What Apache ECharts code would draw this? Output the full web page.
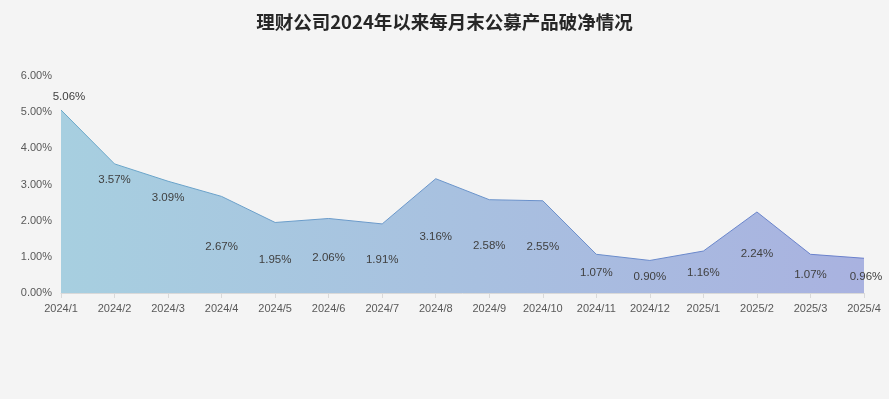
<!DOCTYPE html>
<html><head><meta charset="utf-8">
<script src="https://cdn.jsdelivr.net/npm/echarts@6/dist/echarts.min.js"></script>
<style>html,body{margin:0;padding:0;background:#f4f4f4;}#c{width:889px;height:399px;}</style>
</head><body><div id="c"></div>
<script>
const categories = ['2024/1','2024/2','2024/3','2024/4','2024/5','2024/6','2024/7','2024/8','2024/9','2024/10','2024/11','2024/12','2025/1','2025/2','2025/3','2025/4'];
const values = [5.06,3.57,3.09,2.67,1.95,2.06,1.91,3.16,2.58,2.55,1.07,0.90,1.16,2.24,1.07,0.96];
const yTicks = [0,1,2,3,4,5,6];
// label placement (pixel offsets from each point), style only
const labelDx = [8,0,0,0,0,0,0,0,0,0,0,0,0,0,0,2];
const labelDy = [-13,16,17,50,37,39,36,58,46,46,19,16,22,42,21,19];

const chart = echarts.init(document.getElementById('c'));
chart.setOption({
  backgroundColor: '#f4f4f4',
  title: {text: '理财公司2024年以来每月末公募产品破净情况', left: 'center', top: 8,
    textStyle: {fontFamily: '"Noto Sans CJK SC"', fontWeight: 'bold', fontSize: 18.5, color: '#262626'}},
  grid: {left: 61, right: 25, top: 76, bottom: 106},
  xAxis: {type: 'category', data: categories, boundaryGap: false,
    axisLine: {lineStyle: {color: '#d9d9d9'}},
    axisTick: {show: true, alignWithLabel: true, length: 5, lineStyle: {color: '#d9d9d9'}},
    axisLabel: {color: '#595959', fontSize: 11, fontFamily: 'Liberation Sans', margin: 10, interval: 0}},
  yAxis: {type: 'value', min: 0, max: 6, interval: 1,
    axisLine: {show: false}, axisTick: {show: false}, splitLine: {show: false},
    axisLabel: {color: '#595959', fontSize: 11, fontFamily: 'Liberation Sans', margin: 9,
      formatter: v => v.toFixed(2) + '%'}},
  series: [{
    type: 'line', symbol: 'circle', symbolSize: 1, showSymbol: true, smooth: false,
    itemStyle: {color: 'rgba(0,0,0,0)'},
    data: values.map((v, i) => ({value: v, label: {offset: [labelDx[i], labelDy[i]]}})),
    lineStyle: {width: 1, color: new echarts.graphic.LinearGradient(0,0,1,0,[{offset:0,color:'#6aa9c9'},{offset:1,color:'#6a7fcc'}])},
    areaStyle: {opacity: 1, color: new echarts.graphic.LinearGradient(0,0,1,0,[{offset:0,color:'#a7cfe0'},{offset:1,color:'#a9b2e0'}])},
    label: {show: true, position: 'inside', color: '#404040', fontSize: 11.5, fontFamily: 'Liberation Sans',
      formatter: p => p.value.toFixed(2) + '%'}
  }]
});
</script></body></html>
